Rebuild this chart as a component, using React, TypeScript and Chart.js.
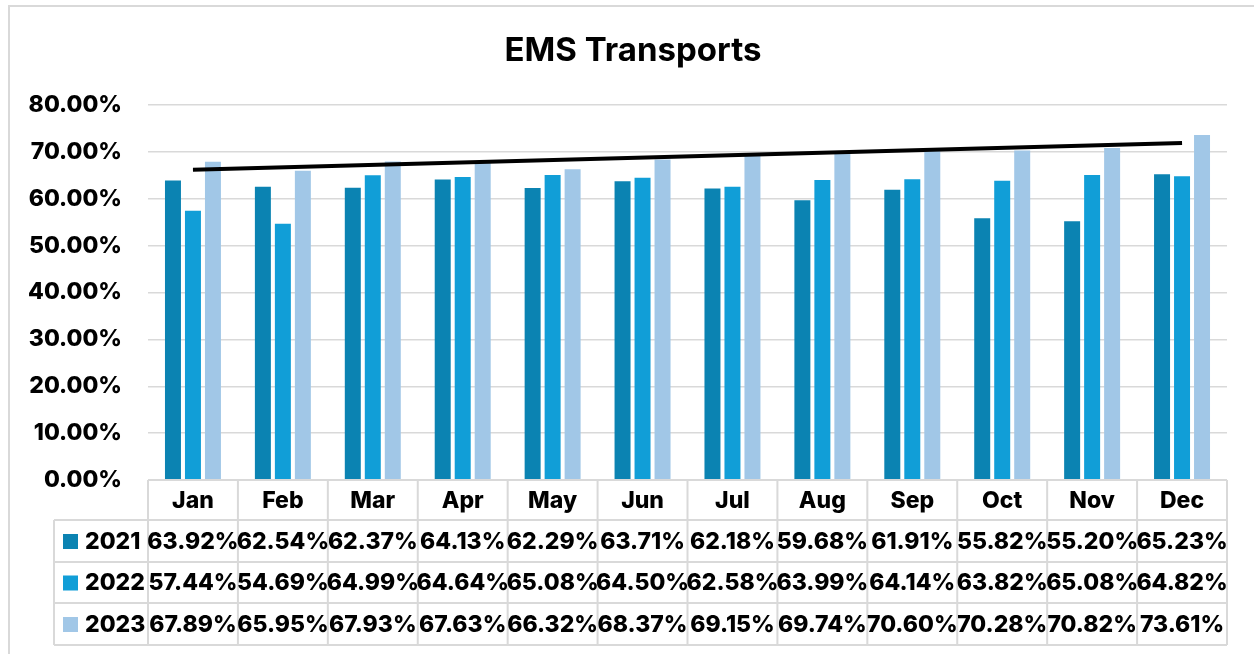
import React, { useEffect, useRef } from "react";
import { Chart, registerables } from "chart.js";

Chart.register(...registerables);

const months = ["Jan", "Feb", "Mar", "Apr", "May", "Jun", "Jul", "Aug", "Sep", "Oct", "Nov", "Dec"];
const seriesNames = ["2021", "2022", "2023"];
const values2021 = [63.92, 62.54, 62.37, 64.13, 62.29, 63.71, 62.18, 59.68, 61.91, 55.82, 55.2, 65.23];
const values2022 = [57.44, 54.69, 64.99, 64.64, 65.08, 64.5, 62.58, 63.99, 64.14, 63.82, 65.08, 64.82];
const values2023 = [67.89, 65.95, 67.93, 67.63, 66.32, 68.37, 69.15, 69.74, 70.6, 70.28, 70.82, 73.61];
// Linear trendline endpoints (Jan and Dec)
const trendline = [66.2, null, null, null, null, null, null, null, null, null, null, 71.9];
const yTicks = [0, 10, 20, 30, 40, 50, 60, 70, 80];
const colors = ["#0B83B2", "#119ED7", "#A1C7E7"];

const FONT = "Inter, 'Open Sans', 'Liberation Sans', sans-serif";
const WEIGHT = 800;

const tablePlugin = {
  id: "dataTable",
  beforeDraw(chart: any) {
    const ctx = chart.ctx;
    ctx.save();
    ctx.fillStyle = "#ffffff";
    ctx.fillRect(0, 0, chart.width, chart.height);
    ctx.strokeStyle = "#d9d9d9";
    ctx.lineWidth = 2;
    ctx.strokeRect(9, 6, chart.width + 20, chart.height + 20);
    // title
    ctx.fillStyle = "#000";
    ctx.font = `700 33px ${FONT}`;
    ctx.textAlign = "center";
    ctx.textBaseline = "alphabetic";
    ctx.fillText("EMS Transports", 633, 61);
    ctx.restore();
  },
  afterDraw(chart: any) {
    const ctx = chart.ctx;
    const xs = chart.scales.x;
    const area = chart.chartArea;
    const left = area.left;
    const right = area.right;
    const colW = (right - left) / months.length;
    const legendLeft = 54;
    const rowsY = [area.bottom, 520, 562, 603, 645];
    const datasets = [values2021, values2022, values2023];
    ctx.save();
    ctx.strokeStyle = "#d9d9d9";
    ctx.lineWidth = 2;
    ctx.beginPath();
    ctx.moveTo(left, rowsY[0]);
    ctx.lineTo(right, rowsY[0]);
    for (let i = 1; i < rowsY.length; i++) {
      ctx.moveTo(legendLeft, rowsY[i]);
      ctx.lineTo(right, rowsY[i]);
    }
    for (let i = 0; i <= months.length; i++) {
      const x = left + i * colW;
      ctx.moveTo(x, rowsY[0]);
      ctx.lineTo(x, rowsY[4]);
    }
    ctx.moveTo(legendLeft, rowsY[1]);
    ctx.lineTo(legendLeft, rowsY[4]);
    ctx.stroke();

    ctx.fillStyle = "#000";
    ctx.font = `${WEIGHT} 23px ${FONT}`;
    ctx.textAlign = "center";
    ctx.textBaseline = "middle";
    months.forEach((m, i) => {
      const cx = xs.getPixelForValue(i);
      ctx.fillText(m, cx, (rowsY[0] + rowsY[1]) / 2 + 1);
    });
    datasets.forEach((vals, r) => {
      const cy = (rowsY[r + 1] + rowsY[r + 2]) / 2 + 1;
      ctx.fillStyle = colors[r];
      ctx.fillRect(63, cy - 8, 15, 15);
      ctx.fillStyle = "#000";
      ctx.textAlign = "left";
      ctx.fillText(seriesNames[r], 85, cy);
      ctx.textAlign = "center";
      vals.forEach((v, i) => {
        const cx = xs.getPixelForValue(i);
        ctx.fillText(`${v.toFixed(2)}%`, cx, cy);
      });
    });
    ctx.restore();
  },
};

export default function App() {
  const ref = useRef<HTMLCanvasElement | null>(null);
  useEffect(() => {
    if (!ref.current) return;
    const chart = new Chart(ref.current, {
      type: "bar",
      data: {
        labels: months,
        datasets: [
          {
            type: "line" as any,
            label: "Linear (2023)",
            data: trendline as any,
            borderColor: "#000000",
            borderWidth: 4,
            pointRadius: 0,
            spanGaps: true,
            fill: false,
            order: 0,
          },
          { label: seriesNames[0], data: values2021, backgroundColor: colors[0], order: 1 },
          { label: seriesNames[1], data: values2022, backgroundColor: colors[1], order: 1 },
          { label: seriesNames[2], data: values2023, backgroundColor: colors[2], order: 1 },
        ] as any,
      },
      options: {
        animation: false,
        responsive: false,
        maintainAspectRatio: false,
        datasets: { bar: { categoryPercentage: 0.667, barPercentage: 0.8 } } as any,
        layout: { padding: { left: 8, right: 27, top: 105, bottom: 174 } },
        plugins: { legend: { display: false }, title: { display: false }, tooltip: { enabled: false } },
        scales: {
          x: { display: false },
          y: {
            min: 0,
            max: 80,
            afterFit(scale: any) {
              scale.width = 140;
            },
            afterBuildTicks(scale: any) {
              scale.ticks = yTicks.map((v) => ({ value: v }));
            },
            border: { display: false },
            grid: { color: "#d9d9d9", lineWidth: 1.5, drawTicks: false },
            ticks: {
              padding: 26,
              color: "#000",
              font: { family: FONT, size: 23, weight: WEIGHT as any },
              callback: (v: any) => `${Number(v).toFixed(2)}%`,
            },
          },
        },
      },
      plugins: [tablePlugin],
    });
    return () => chart.destroy();
  }, []);
  return (
    <div style={{ position: "fixed", left: 0, top: 0, width: 1254, height: 654 }}>
      <canvas ref={ref} width={1254} height={654} style={{ width: 1254, height: 654, display: "block" }} />
    </div>
  );
}
